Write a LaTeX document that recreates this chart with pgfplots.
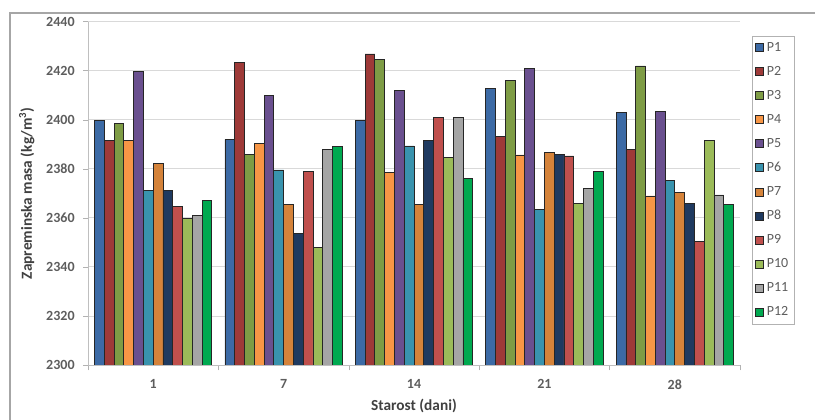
\documentclass[border=0pt]{standalone}
\usepackage{pgfplots}
\pgfplotsset{compat=1.18}
\usepackage{pgfplotstable}
\usepackage{fontspec}
\setmainfont{Carlito}
\definecolor{cP1}{HTML}{3C6AA5}
\definecolor{cP2}{HTML}{9E3A38}
\definecolor{cP3}{HTML}{7E9C45}
\definecolor{cP4}{HTML}{F79646}
\definecolor{cP5}{HTML}{6A508F}
\definecolor{cP6}{HTML}{3993AE}
\definecolor{cP7}{HTML}{D5833A}
\definecolor{cP8}{HTML}{1F3A60}
\definecolor{cP9}{HTML}{C0504D}
\definecolor{cP10}{HTML}{9BBB59}
\definecolor{cP11}{HTML}{A5A5A5}
\definecolor{cP12}{HTML}{00A950}
\definecolor{txt}{HTML}{404040}
\pgfplotstableread{
x P1 P2 P3 P4 P5 P6 P7 P8 P9 P10 P11 P12
0 2399.6 2391.5 2398.5 2391.5 2419.8 2371.0 2382.2 2371.3 2364.5 2359.8 2360.9 2366.9
1 2392.0 2423.2 2386.0 2390.4 2410.0 2379.5 2365.6 2353.7 2378.8 2348.0 2387.9 2389.0
2 2399.6 2426.8 2424.6 2378.4 2411.8 2389.3 2365.6 2391.4 2401.0 2384.7 2401.0 2376.0
3 2412.8 2393.0 2415.9 2385.6 2420.9 2363.5 2386.5 2385.9 2385.2 2365.9 2372.0 2378.8
4 2402.8 2388.0 2421.9 2368.9 2403.2 2375.1 2370.2 2365.9 2350.3 2391.7 2369.3 2365.6
}\datatable
\begin{document}
\begin{tikzpicture}
\path[use as bounding box] (0pt,0pt) rectangle (611.25pt,315pt);
\draw[gray!70, line width=0.8pt] (7.5pt,0pt) -- (7.5pt,305.25pt) -- (611.25pt,305.25pt);
\begin{axis}[
  at={(66pt,41.25pt)}, anchor=south west,
  scale only axis, width=489pt, height=257.6pt,
  ybar, bar width=0.075,
  ymin=2300, ymax=2440, ytick={2300,2320,...,2440},
  xmin=-0.5, xmax=4.5,
  xtick={0,1,2,3,4}, xticklabels={1,7,14,21,28},
  minor xtick={-0.5,0.5,1.5,2.5,3.5,4.5},
  major x tick style={draw=none},
  minor x tick style={gray!60},
  minor tick length=4pt,
  major tick length=3.5pt,
  tick align=outside,
  xtick pos=bottom, ytick pos=left,
  ytick style={gray!60},
  ymajorgrids, grid style={gray!30, line width=0.6pt},
  axis line style={gray!50},
  axis x line*=bottom, axis y line*=left,
  /pgf/number format/assume math mode=true,
  /pgf/number format/1000 sep={},
  tick label style={font=\fontsize{10.5}{12}\selectfont\bfseries, text=txt!85},
  yticklabel style={xshift=-3pt},
  xticklabel style={yshift=-4pt},
  xlabel={Starost (dani)}, ylabel={Zapreminska masa (kg/m\textsuperscript{3})},
  label style={font=\fontsize{11.5}{13}\selectfont\bfseries, text=txt},
  xlabel style={yshift=0pt},
  ylabel style={yshift=2pt},
  legend style={at={(1.018,0.958)}, anchor=north west, draw=gray!60,
    font=\fontsize{10.5}{12}\selectfont, text=txt!85, row sep=5.7pt,
    inner sep=2.5pt, legend cell align=left},
  legend image code/.code={\draw[#1, line width=0.6pt] (0pt,-3pt) rectangle (6pt,3pt);},
  every axis plot/.append style={draw=black!85, line width=0.6pt},
]
\addplot[fill=cP1, bar shift=-0.4125] table[x=x,y=P1]{\datatable};
\addplot[fill=cP2, bar shift=-0.3375] table[x=x,y=P2]{\datatable};
\addplot[fill=cP3, bar shift=-0.2625] table[x=x,y=P3]{\datatable};
\addplot[fill=cP4, bar shift=-0.1875] table[x=x,y=P4]{\datatable};
\addplot[fill=cP5, bar shift=-0.1125] table[x=x,y=P5]{\datatable};
\addplot[fill=cP6, bar shift=-0.0375] table[x=x,y=P6]{\datatable};
\addplot[fill=cP7, bar shift=0.0375] table[x=x,y=P7]{\datatable};
\addplot[fill=cP8, bar shift=0.1125] table[x=x,y=P8]{\datatable};
\addplot[fill=cP9, bar shift=0.1875] table[x=x,y=P9]{\datatable};
\addplot[fill=cP10, bar shift=0.2625] table[x=x,y=P10]{\datatable};
\addplot[fill=cP11, bar shift=0.3375] table[x=x,y=P11]{\datatable};
\addplot[fill=cP12, bar shift=0.4125] table[x=x,y=P12]{\datatable};
\legend{P1,P2,P3,P4,P5,P6,P7,P8,P9,P10,P11,P12}
\end{axis}
\end{tikzpicture}
\end{document}
